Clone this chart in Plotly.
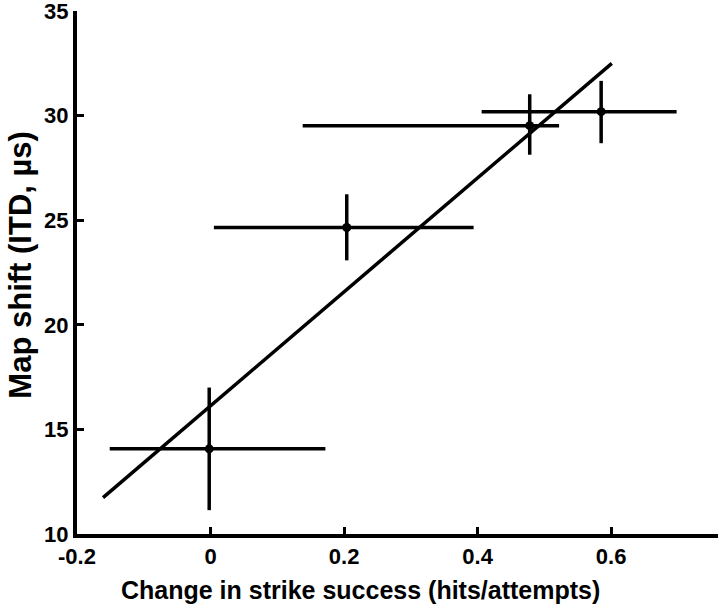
import plotly.graph_objects as go

# strike success change vs map shift
strike_change = [-0.002, 0.204, 0.478, 0.585]
strike_low = [-0.151, 0.005, 0.138, 0.406]
strike_high = [0.172, 0.394, 0.522, 0.698]
map_shift = [14.07, 24.65, 29.52, 30.19]
shift_low = [11.14, 23.08, 28.13, 28.68]
shift_high = [17.0, 26.24, 31.02, 31.66]

# regression line end points
fit_x = [-0.161, 0.601]
fit_y = [11.74, 32.5]

x_ticks = [-0.2, 0, 0.2, 0.4, 0.6]
x_labels = ['-0.2', '0', '0.2', '0.4', '0.6']
y_ticks = [10, 15, 20, 25, 30, 35]

fig = go.Figure()

fig.add_trace(go.Scatter(
    x=fit_x, y=fit_y, mode='lines',
    line=dict(color='black', width=3.5),
    showlegend=False, hoverinfo='skip'))

fig.add_trace(go.Scatter(
    x=strike_change, y=map_shift, mode='markers',
    marker=dict(color='black', size=9),
    error_x=dict(type='data', symmetric=False,
                 array=[h - x for h, x in zip(strike_high, strike_change)],
                 arrayminus=[x - l for l, x in zip(strike_low, strike_change)],
                 color='black', thickness=3.5, width=0),
    error_y=dict(type='data', symmetric=False,
                 array=[h - y for h, y in zip(shift_high, map_shift)],
                 arrayminus=[y - l for l, y in zip(shift_low, map_shift)],
                 color='black', thickness=3.5, width=0),
    showlegend=False))

font_name = 'Liberation Sans, Arial, sans-serif'

fig.update_xaxes(
    range=[-0.2, 0.76], tickvals=x_ticks, ticktext=x_labels,
    showline=True, linecolor='black', linewidth=4, mirror=False,
    ticks='inside', ticklen=7, tickwidth=3, tickcolor='black',
    showgrid=False, zeroline=False, automargin=False,
    ticklabeloverflow='allow',
    tickfont=dict(family=font_name, size=22, color='black', weight='bold'))

fig.update_yaxes(
    range=[10, 35], tickvals=y_ticks,
    showline=True, linecolor='black', linewidth=4, mirror=False,
    ticks='inside', ticklen=7, tickwidth=3, tickcolor='black',
    showgrid=False, zeroline=False, automargin=False,
    ticklabeloverflow='allow',
    tickfont=dict(family=font_name, size=22, color='black', weight='bold'))

# axis titles as annotations (x title sits centred on the page, not the axis)
fig.add_annotation(
    text='Change in strike success (hits/attempts)',
    xref='paper', yref='paper', x=0.4415, y=0, yshift=-56,
    xanchor='center', yanchor='middle', showarrow=False,
    font=dict(family=font_name, size=25, color='black', weight='bold'))
fig.add_annotation(
    text='Map shift (ITD, µs)', textangle=-90,
    xref='paper', yref='paper', x=0, y=0.515, xshift=-56,
    xanchor='center', yanchor='middle', showarrow=False,
    font=dict(family=font_name, size=31, color='black', weight='bold'))

fig.update_layout(
    width=720, height=606,
    margin=dict(l=77, r=2, t=11, b=72),
    plot_bgcolor='white', paper_bgcolor='white')

# drop the default page margin so the figure fills the window
fig.write_html("out.html", config={'displayModeBar': False},
               post_script="document.body.style.margin='0';")
